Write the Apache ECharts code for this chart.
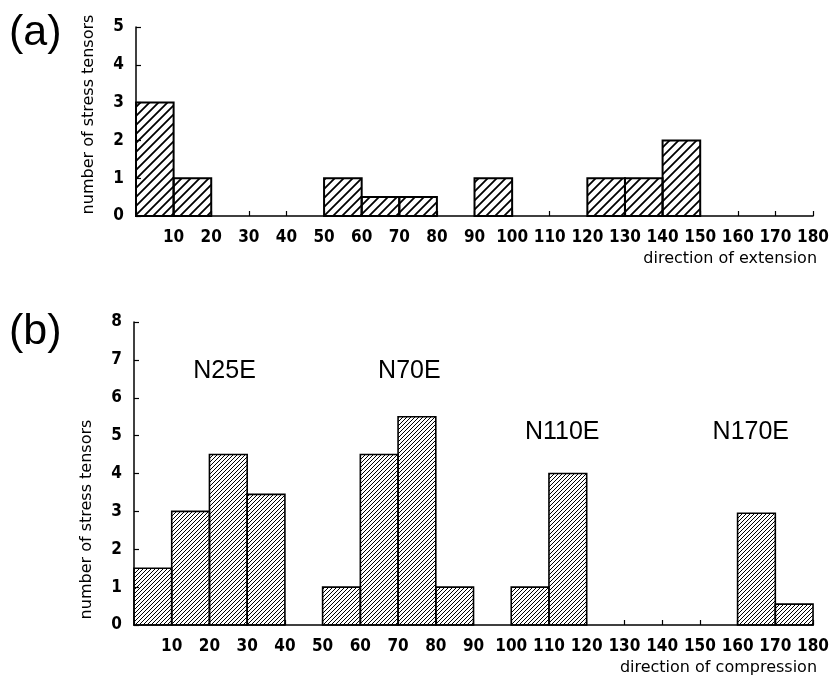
<!DOCTYPE html>
<html>
<head>
<meta charset="utf-8">
<script src="https://cdn.jsdelivr.net/npm/echarts@6/dist/echarts.min.js"></script>
<style>
  html, body { margin: 0; background: #fff; }
  #chart { width: 832px; height: 686px; }
</style>
</head>
<body>
<div id="chart"></div>
<script>
// bins are 10 degrees wide
var binStarts = [0, 10, 20, 30, 40, 50, 60, 70, 80, 90, 100, 110, 120, 130, 140, 150, 160, 170];
var extensionCounts = [3, 1, 0, 0, 0, 1, 0.5, 0.5, 0, 1, 0, 0, 1, 1, 2, 0, 0, 0];
var compressionCounts = [1.5, 3, 4.5, 3.45, 0, 1, 4.5, 5.5, 1, 0, 1, 4, 0, 0, 0, 0, 2.95, 0.55];
var peakNames = ["N25E", "N70E", "N110E", "N170E"];
var peakX = [24, 73, 113.5, 163.5];
var peakY = [6.7, 6.7, 5.1, 5.1];

var tickFont = "'Liberation Sans Narrow', 'DejaVu Sans Condensed', 'Liberation Sans', sans-serif";
var textFont = "'DejaVu Sans', sans-serif";

function hatch(size, w) {
  var c = document.createElement("canvas");
  c.width = size;
  c.height = size;
  var g = c.getContext("2d");
  g.strokeStyle = "#000";
  g.lineWidth = w;
  g.beginPath();
  g.moveTo(-1, size + 1); g.lineTo(size + 1, -1);
  g.moveTo(-2, 2); g.lineTo(2, -2);
  g.moveTo(size - 2, size + 2); g.lineTo(size + 2, size - 2);
  g.stroke();
  return c;
}

var sparse = hatch(9, 1.8);
var dense = hatch(4, 1);

function bins(counts) {
  return binStarts.map(function (s, i) {
    return [s, s + 10, counts[i]];
  });
}

function histItem(pattern, lw) {
  return function (params, api) {
    var v = api.value(2);
    if (!v) return null;
    var p0 = api.coord([api.value(0), v]);
    var p1 = api.coord([api.value(1), 0]);
    return {
      type: "rect",
      shape: { x: p0[0], y: p0[1], width: p1[0] - p0[0], height: p1[1] - p0[1] },
      style: { fill: { image: pattern, repeat: "repeat" }, stroke: "#000", lineWidth: lw }
    };
  };
}

function xAx(idx, name) {
  return {
    gridIndex: idx,
    type: "value",
    min: 0,
    max: 180,
    interval: 10,
    splitLine: { show: false },
    axisLine: { onZero: false, lineStyle: { color: "#000", width: 1.5 } },
    axisTick: { inside: true, length: 5, lineStyle: { color: "#000", width: 1.2 } },
    axisLabel: {
      margin: 13,
      color: "#000",
      fontFamily: tickFont,
      fontWeight: "bold",
      fontSize: 17,
      formatter: function (v) { return v === 0 ? "" : v; }
    },
    name: name,
    nameLocation: "end",
    nameGap: 4,
    nameTextStyle: {
      align: "right",
      verticalAlign: "top",
      color: "#000",
      fontFamily: textFont,
      fontSize: 16,
      padding: [35, 0, 0, 0]
    }
  };
}

function yAx(idx, max, namePad) {
  return {
    gridIndex: idx,
    type: "value",
    min: 0,
    max: max,
    interval: 1,
    splitLine: { show: false },
    axisLine: { show: true, lineStyle: { color: "#000", width: 1.5 } },
    axisTick: { show: true, inside: true, length: 5, lineStyle: { color: "#000", width: 1.2 } },
    axisLabel: {
      margin: 12,
      color: "#000",
      fontFamily: tickFont,
      fontWeight: "bold",
      fontSize: 17
    },
    name: "number of stress tensors",
    nameLocation: "middle",
    nameGap: 39,
    nameTextStyle: {
      color: "#000",
      fontFamily: textFont,
      fontSize: 16,
      padding: namePad
    }
  };
}

var chart = echarts.init(document.getElementById("chart"));
chart.setOption({
  animation: false,
  backgroundColor: "#fff",
  grid: [
    { left: 136, right: 15, top: 27, bottom: 470 },
    { left: 134, right: 16, top: 322, bottom: 61 }
  ],
  xAxis: [xAx(0, "direction of extension"), xAx(1, "direction of compression")],
  yAxis: [yAx(0, 5, [0, 0, 0, 14]), yAx(1, 8, [0, 92, 0, 0])],
  graphic: [
    { type: "text", left: 9, top: 12, style: { text: "(a)", font: "43px 'Liberation Sans'", fill: "#000" } },
    { type: "text", left: 9, top: 311, style: { text: "(b)", font: "43px 'Liberation Sans'", fill: "#000" } }
  ],
  series: [
    {
      type: "custom",
      xAxisIndex: 0,
      yAxisIndex: 0,
      renderItem: histItem(sparse, 2),
      encode: { x: [0, 1], y: 2 },
      data: bins(extensionCounts)
    },
    {
      type: "custom",
      xAxisIndex: 1,
      yAxisIndex: 1,
      renderItem: histItem(dense, 1.6),
      encode: { x: [0, 1], y: 2 },
      data: bins(compressionCounts)
    },
    {
      type: "custom",
      xAxisIndex: 1,
      yAxisIndex: 1,
      renderItem: function (params, api) {
        var p = api.coord([api.value(0), api.value(1)]);
        return {
          type: "text",
          x: p[0],
          y: p[1],
          style: {
            text: peakNames[params.dataIndex],
            font: "25px 'Liberation Sans'",
            fill: "#000",
            align: "center",
            verticalAlign: "middle"
          }
        };
      },
      data: peakX.map(function (x, i) { return [x, peakY[i]]; })
    }
  ]
});
</script>
</body>
</html>
